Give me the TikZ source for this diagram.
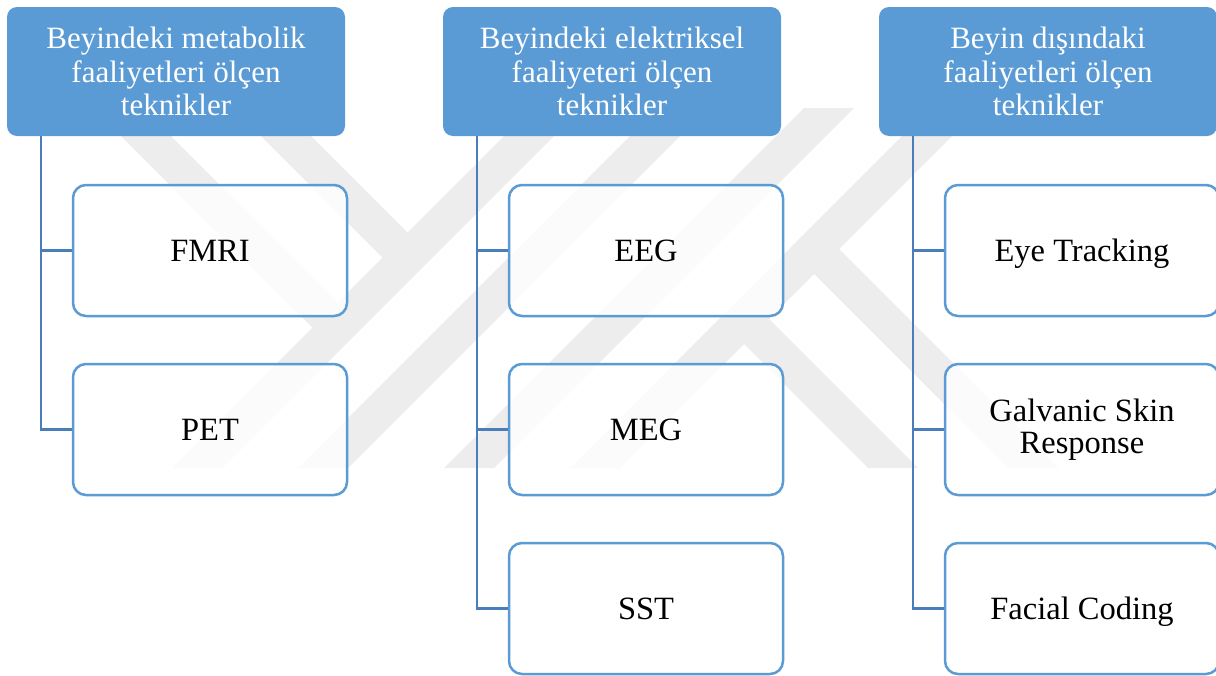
\documentclass[tikz,border=0pt]{standalone}
\usepackage{fontspec}
\setmainfont{Liberation Serif}
\definecolor{hdrblue}{HTML}{5B9BD5}
\definecolor{linkblue}{HTML}{4A7EBB}
\definecolor{wmgray}{HTML}{EDEDED}

\begin{document}
\begin{tikzpicture}[x=1pt,y=-1pt]
    \tikzstyle{head}=[rectangle,rounded corners=10pt,fill=hdrblue,text=white,minimum width=338pt,minimum height=129pt,inner sep=0pt,align=center,font=\fontsize{31}{33.7}\selectfont]
    \tikzstyle{leaf}=[rectangle,rounded corners=13pt,draw=hdrblue,line width=2.5pt,fill=white,fill opacity=0.8,text opacity=1,minimum width=274pt,minimum height=131pt,inner sep=0pt,align=center,font=\fontsize{32.5}{32}\selectfont]
    \tikzstyle{oneline}=[text height=21.5pt,text depth=0pt]
    \tikzstyle{link}=[draw=linkblue,line width=2.5pt]
    \tikzstyle{wmark}=[fill=wmgray]
    \useasboundingbox (0,0) rectangle (1216,675);
    % watermark
    \begin{scope}
      \clip (0,108) rectangle (1216,468);
      \foreach \a in {640,766,912,1038}
        \fill[wmark] (\a-108,108) -- (\a-58,108) -- (\a-418,468) -- (\a-468,468) -- cycle;
      \foreach \p in {-15,125}
        \fill[wmark] (108+\p,108) -- (158+\p,108) -- ({(715+\p)/2},{(615-\p)/2}) -- ({(665+\p)/2},{(665-\p)/2}) -- cycle;
      \foreach \p in {400,540}
        \fill[wmark] (468+\p,468) -- (518+\p,468) -- ({(1113+\p)/2},{(1013-\p)/2}) -- ({(1063+\p)/2},{(1063-\p)/2}) -- cycle;
    \end{scope}
    % headers
    \node[head] (h1) at (176,71.5) {Beyindeki metabolik\\faaliyetleri ölçen\\teknikler};
    \node[head] (h2) at (612,71.5) {Beyindeki elektriksel\\faaliyeteri ölçen\\teknikler};
    \node[head] (h3) at (1048,71.5) {Beyin dışındaki\\faaliyetleri ölçen\\teknikler};
    % techniques
    \node[leaf,oneline] (fmri) at (210,250.5) {FMRI};
    \node[leaf,oneline] (pet) at (210,429.5) {PET};
    \node[leaf,oneline] (eeg) at (646,250.5) {EEG};
    \node[leaf,oneline] (meg) at (646,429.5) {MEG};
    \node[leaf,oneline] (sst) at (646,608.5) {SST};
    \node[leaf,oneline] (eye) at (1082,250.5) {Eye Tracking};
    \node[leaf] (gsr) at (1082,429.5) {Galvanic Skin\\Response};
    \node[leaf,oneline] (face) at (1082,608.5) {Facial Coding};
    % connectors
    \foreach \c in {fmri,pet}
      \draw[link] ([xshift=34pt]h1.south west) |- (\c.west);
    \foreach \c in {eeg,meg,sst}
      \draw[link] ([xshift=34pt]h2.south west) |- (\c.west);
    \foreach \c in {eye,gsr,face}
      \draw[link] ([xshift=34pt]h3.south west) |- (\c.west);
\end{tikzpicture}
\end{document}
